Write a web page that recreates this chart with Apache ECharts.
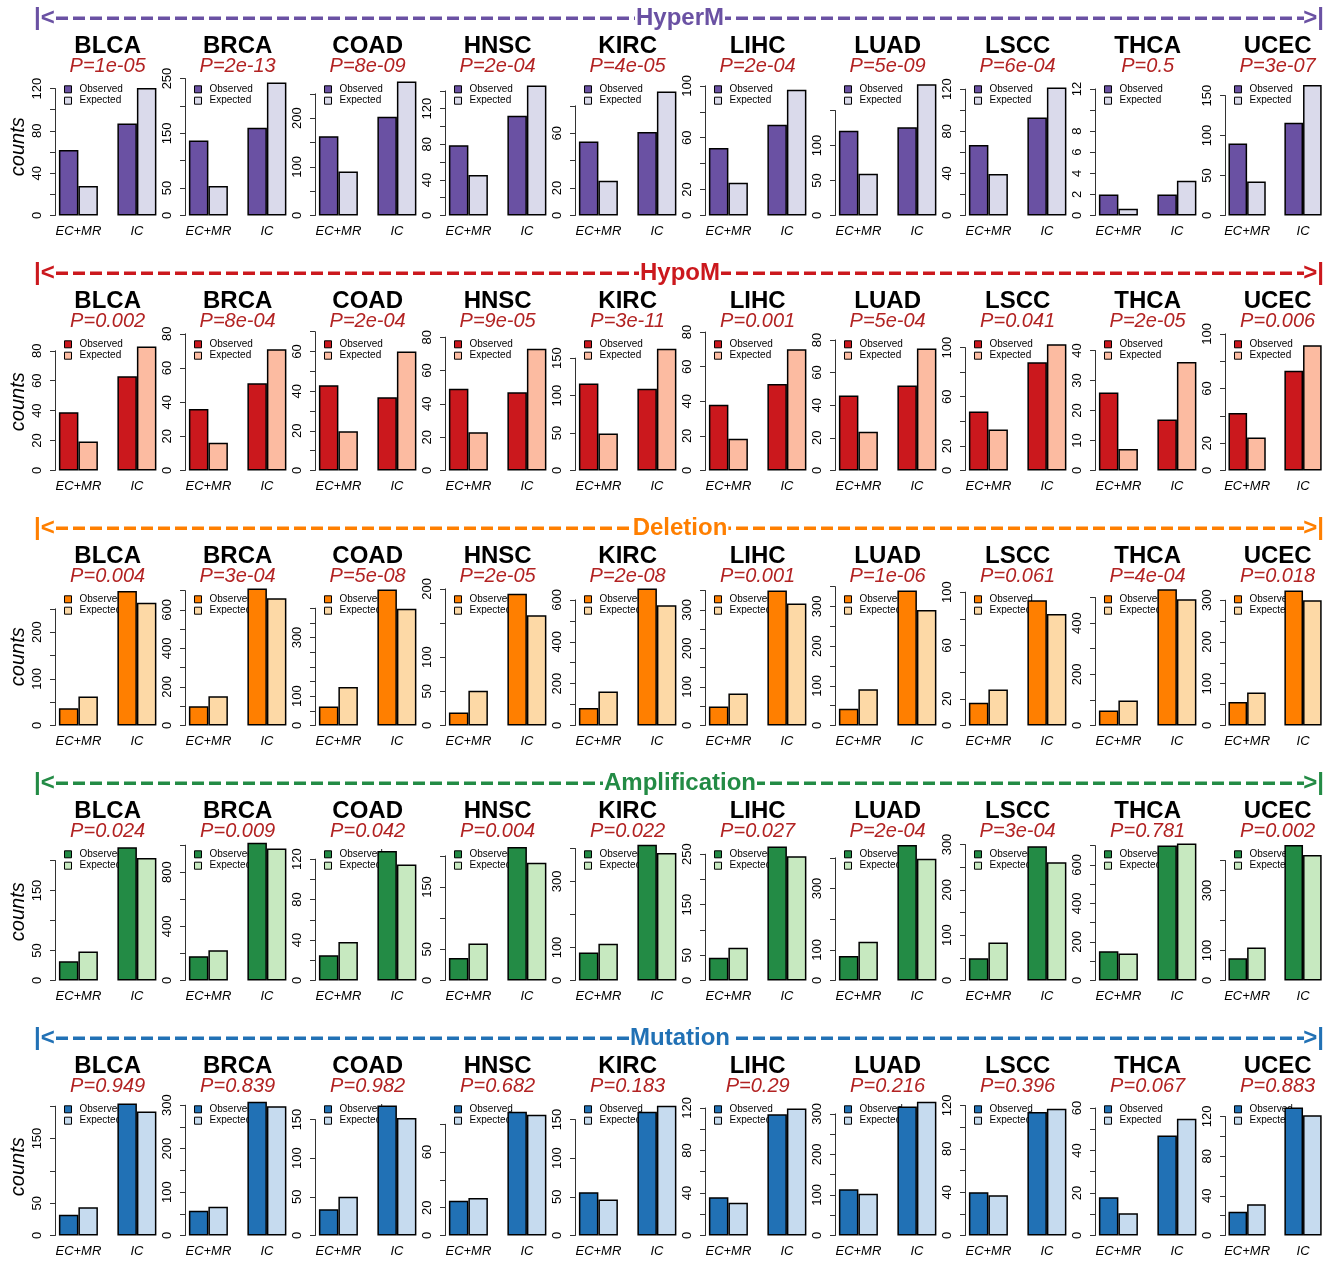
<!DOCTYPE html>
<html><head><meta charset="utf-8">
<script src="https://cdn.jsdelivr.net/npm/echarts@6.0.0/dist/echarts.min.js"></script>
<style>html,body{margin:0;padding:0;background:#fff}#chart{width:1331px;height:1261px}</style>
</head><body><div id="chart"></div>
<script>
// ---------------- data ----------------
const panels = ['BLCA','BRCA','COAD','HNSC','KIRC','LIHC','LUAD','LSCC','THCA','UCEC'];
const groups = ['EC+MR','IC'];
const rowNames = ['HyperM','HypoM','Deletion','Amplification','Mutation'];

const hypermObserved = [[62,87],[137,160],[163,203],[79,112],[54,61],[52,70],[121,126],[67,93],[2,2],[90,116]];
const hypermExpected = [[28,120.6],[54,242.7],[90.4,275.3],[45.5,146],[25.3,90.5],[25.2,96.9],[59.5,187.6],[39.3,121.6],[0.63,3.3],[42.5,163.3]];
const hypermP = ['1e-05','2e-13','8e-09','2e-04','4e-05','2e-04','5e-09','6e-04','0.5','3e-07'];
const hypermTickStep = [20,50,50,20,20,20,50,20,2,50];
const hypermTickTop = [120,250,250,140,80,100,150,120,12,150];
const hypermTickLabels = [[0,40,80,120],[0,50,150,250],[0,100,200],[0,40,80,120],[0,20,60],[0,20,60,100],[0,50,100],[0,40,80,120],[0,2,4,6,8,12],[0,50,100,150]];
const hypermAxisLimit = [127.6,246.4,277.4,151.7,98.5,104.1,192.9,128.2,12.8,168.8];

const hypomObserved = [[39,63],[36,51],[43,37],[49,47],[116,109],[38,50],[46,52],[48,88],[26,17],[42,73]];
const hypomExpected = [[19.4,82.9],[16.2,71],[19.8,60],[23,73],[49.4,162.4],[18.3,70.1],[23.7,74.7],[33.3,102.7],[7.2,36.2],[24.1,91.7]];
const hypomP = ['0.002','8e-04','2e-04','9e-05','3e-11','0.001','5e-04','0.041','2e-05','0.006'];
const hypomTickStep = [20,20,10,20,50,20,20,20,10,20];
const hypomTickTop = [80,80,70,80,150,80,80,100,40,100];
const hypomTickLabels = [[0,20,40,60,80],[0,20,40,60,80],[0,20,40,60],[0,20,40,60,80],[0,50,100,150],[0,20,40,60,80],[0,20,40,60,80],[0,20,60,100],[0,10,20,30,40],[0,20,60,100]];
const hypomAxisLimit = [90.2,79.0,68.1,81,180.2,78.0,82.7,109.8,45,98.8];

const deletionObserved = [[37,288],[100,711],[65,464],[19,193],[84,654],[49,350],[42,340],[17,94],[59,532],[56,323]];
const deletionExpected = [[62,263],[152,661],[131,398],[50.7,161.5],[162,575],[83,316],[91.6,291],[27,83.7],[97.7,493],[79,300]];
const deletionP = ['0.004','3e-04','5e-08','2e-05','2e-08','0.001','1e-06','0.061','4e-04','0.018'];
const deletionTickStep = [50,100,50,50,100,50,50,20,100,50];
const deletionTickTop = [250,700,400,200,600,350,350,100,500,300];
const deletionTickLabels = [[0,100,200],[0,200,400,600],[0,100,300],[0,50,100,200],[0,200,400,600],[0,100,200,300],[0,100,200,300],[0,20,60,100],[0,200,400],[0,100,200,300]];
const deletionAxisLimit = [289.3,700.7,460.2,197.6,644.9,350,340.3,101.25,527.3,323.2];

const amplificationObserved = [[32,222],[180,1017],[25,128],[36,214],[85,411],[45,265],[80,442],[49,296],[152,701],[74,452]];
const amplificationExpected = [[48.3,204],[224,975],[38,114.7],[59.4,189],[111,386],[64.6,246],[126,397],[84,261],[140,711],[110,418]];
const amplificationP = ['0.024','0.009','0.042','0.004','0.022','0.027','2e-04','3e-04','0.781','0.002'];
const amplificationTickStep = [50,200,20,50,100,50,100,50,100,100];
const amplificationTickTop = [200,1000,120,200,400,250,400,300,700,400];
const amplificationTickLabels = [[0,50,150],[0,400,800],[0,40,80,120],[0,50,150],[0,100,300],[0,50,150,250],[0,100,300],[0,100,200,300],[0,200,400,600],[0,100,300]];
const amplificationAxisLimit = [225,997.5,133.5,216.6,409,267.2,440.2,297.8,700.7,450];

const mutationObserved = [[32,204],[57,308],[34,168],[25,89],[56,160],[36,114],[114,318],[40,114],[18,47],[24,129]];
const mutationExpected = [[43.8,191.8],[66,297.8],[50,152],[26.9,86.8],[46.6,167.7],[30.7,119.4],[102.7,329.5],[37.2,117],[10.5,54.9],[31.6,121.3]];
const mutationP = ['0.949','0.839','0.982','0.682','0.183','0.29','0.216','0.396','0.067','0.883'];
const mutationTickStep = [50,50,50,20,50,20,50,20,10,20];
const mutationTickTop = [200,300,150,80,150,120,300,120,60,120];
const mutationTickLabels = [[0,50,150],[0,100,200,300],[0,50,100,150],[0,20,60],[0,50,100,150],[0,40,80,120],[0,100,200,300],[0,40,80,120],[0,20,40,60],[0,40,80,120]];
const mutationAxisLimit = [208.8,310.8,174.6,97.1,174.6,127,332.8,124.6,63.5,136.1];

// ---------------- styles / layout ----------------
const obsColor = ['#6A51A3','#CB181D','#FF7F00','#238B45','#2171B5'];
const expColor = ['#DADAEB','#FCBBA1','#FDD9A6','#C7E9C0','#C6DBEF'];
const FONT = '"Liberation Sans", Arial, Helvetica, sans-serif';
const ROW_DY = 255, BASE0 = 215.5, BAND = 135, PLOT_X0 = 55, PANEL_DX = 130, BAR_U = 19.5;

const rows = [
  {obs: hypermObserved, exp: hypermExpected, p: hypermP, step: hypermTickStep, top: hypermTickTop, labels: hypermTickLabels, lim: hypermAxisLimit},
  {obs: hypomObserved, exp: hypomExpected, p: hypomP, step: hypomTickStep, top: hypomTickTop, labels: hypomTickLabels, lim: hypomAxisLimit},
  {obs: deletionObserved, exp: deletionExpected, p: deletionP, step: deletionTickStep, top: deletionTickTop, labels: deletionTickLabels, lim: deletionAxisLimit},
  {obs: amplificationObserved, exp: amplificationExpected, p: amplificationP, step: amplificationTickStep, top: amplificationTickTop, labels: amplificationTickLabels, lim: amplificationAxisLimit},
  {obs: mutationObserved, exp: mutationExpected, p: mutationP, step: mutationTickStep, top: mutationTickTop, labels: mutationTickLabels, lim: mutationAxisLimit}
];

const grid = [], xAxis = [], yAxis = [], series = [], title = [], legend = [], graphic = [];

rows.forEach((row, r) => {
  const base = BASE0 + ROW_DY * r;
  panels.forEach((pn, i) => {
    const k = r * 10 + i;
    const plotLeft = PLOT_X0 + PANEL_DX * i;
    const h = BAND * row.top[i] / row.lim[i];
    grid.push({left: plotLeft - 0.3 * BAR_U, width: 6 * BAR_U, top: base - h, height: h});
    xAxis.push({
      gridIndex: k, type: 'category', data: groups,
      axisLine: {show: false}, axisTick: {show: false},
      axisLabel: {interval: 0, hideOverlap: false, fontSize: 13, fontStyle: 'italic', color: '#000', margin: 9, fontFamily: FONT}
    });
    const lbls = row.labels[i];
    yAxis.push({
      gridIndex: k, type: 'value', min: 0, max: row.top[i], interval: row.step[i],
      offset: -0.3 * BAR_U,
      axisLine: {show: true, lineStyle: {color: '#333', width: 1}},
      axisTick: {show: true, length: 5, lineStyle: {color: '#333', width: 1}},
      splitLine: {show: false},
      axisLabel: {rotate: 90, fontSize: 13, color: '#000', margin: 11, fontFamily: FONT,
        formatter: v => lbls.includes(v) ? String(v) : ''}
    });
    const common = {type: 'bar', xAxisIndex: k, yAxisIndex: k, barGap: '0%', barCategoryGap: '33.333%',
      clip: false, silent: true, z: 2};
    series.push(Object.assign({}, common, {name: 'Observed', data: row.obs[i],
      itemStyle: {color: obsColor[r], borderColor: '#000', borderWidth: 1.5}}));
    series.push(Object.assign({}, common, {name: 'Expected', data: row.exp[i],
      itemStyle: {color: expColor[r], borderColor: '#000', borderWidth: 1.5}}));
    title.push({
      text: pn, subtext: 'P=' + row.p[i],
      left: plotLeft + 2.7 * BAR_U, textAlign: 'center', top: base - 182,
      padding: 0, itemGap: -2.7,
      textStyle: {fontSize: 24, fontWeight: 'bold', color: '#000', lineHeight: 25, fontFamily: FONT},
      subtextStyle: {fontSize: 20, fontStyle: 'italic', color: '#B22222', lineHeight: 21, fontFamily: FONT}
    });
    legend.push({
      orient: 'vertical', left: plotLeft + 9, top: base - 131.2, padding: 0, itemGap: 1.4,
      itemWidth: 7, itemHeight: 7, icon: 'rect', z: 1, selectedMode: false,
      textStyle: {fontSize: 10, color: '#000', lineHeight: 10, fontFamily: FONT, padding: [0, 0, 0, 3]},
      data: [
        {name: 'Observed', itemStyle: {color: obsColor[r], borderColor: '#000', borderWidth: 1}},
        {name: 'Expected', itemStyle: {color: expColor[r], borderColor: '#000', borderWidth: 1}}
      ]
    });
  });

  // row header: |<----- name ----->|
  const yc = 18.3 + ROW_DY * r;
  const col = obsColor[r];
  graphic.push({type: 'line', z: 1, silent: true,
    shape: {x1: 56, y1: yc, x2: 1304, y2: yc},
    style: {stroke: col, lineWidth: 3.5, lineDash: [12, 5]}});
  graphic.push({type: 'text', x: 34, y: yc, z: 2, silent: true,
    style: {text: '|<', fill: col, font: 'bold 24px ' + FONT, textAlign: 'left', textVerticalAlign: 'middle'}});
  graphic.push({type: 'text', x: 1324, y: yc, z: 2, silent: true,
    style: {text: '>|', fill: col, font: 'bold 24px ' + FONT, textAlign: 'right', textVerticalAlign: 'middle'}});
  graphic.push({type: 'text', x: 680, y: yc, z: 3, silent: true,
    style: {text: rowNames[r], fill: col, font: 'bold 24px ' + FONT, textAlign: 'center', textVerticalAlign: 'middle',
      backgroundColor: '#fff', padding: [0, 1]}});
  // y-axis title
  graphic.push({type: 'text', x: 18.3, y: 146.7 + ROW_DY * r, rotation: Math.PI / 2, silent: true,
    style: {text: 'counts', fill: '#000', font: 'italic 20px ' + FONT, textAlign: 'center', textVerticalAlign: 'middle'}});
});

const chart = echarts.init(document.getElementById('chart'), null, {renderer: 'canvas'});
chart.setOption({
  backgroundColor: '#fff',
  animation: false,
  textStyle: {fontFamily: FONT},
  grid, xAxis, yAxis, series, title, legend, graphic
});
</script></body></html>
